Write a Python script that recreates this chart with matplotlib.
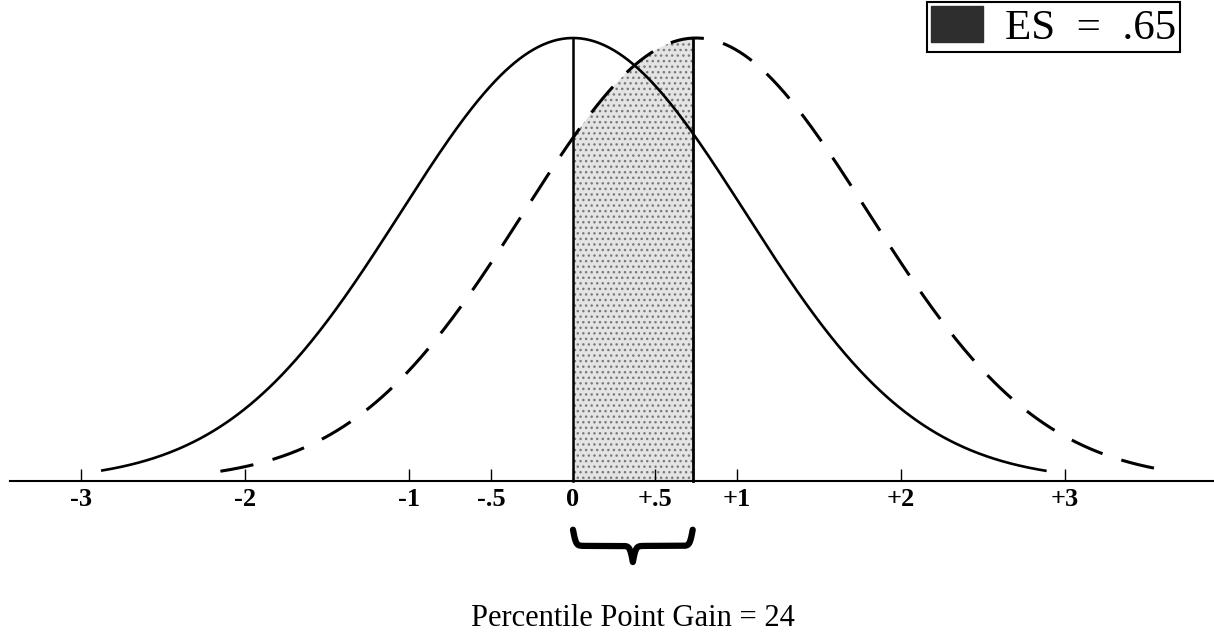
import numpy as np
import matplotlib
matplotlib.use('Agg')
import matplotlib.pyplot as plt
from matplotlib.patches import Patch

# effect size picture: control vs treatment distributions (z units)
effect_size = 0.65
treat_shift = 0.75          # where the dashed curve sits as drawn
shade_right = 0.73          # right edge of shaded band as drawn
spread = 1.05               # hand drawn bells are a little wide
solid_range = (-2.87, 2.88)
dashed_range = (-2.15, 3.58)
tick_vals = [-3, -2, -1, -0.5, 0, 0.5, 1, 2, 3]
tick_labels = ['-3', '-2', '-1', '-.5', '0', '+.5', '+1', '+2', '+3']
gain_label = 'Percentile Point Gain = 24'
es_label = 'ES = .65'


def bell(x, mu=0.0):
    return np.exp(-((x - mu) / spread) ** 2 / 2)


fig = plt.figure(figsize=(12.14, 6.34), dpi=100)
ax = fig.add_axes([0, 0, 1, 1])
ax.set_xlim(-573 / 164, (1214 - 573) / 164)
ax.set_ylim(-153 / 443, (634 - 153) / 443)

# curves
xs = np.linspace(solid_range[0], solid_range[1], 600)
ax.plot(xs, bell(xs), color='black', lw=1.9)
xd = np.linspace(dashed_range[0], dashed_range[1], 600)
ax.plot(xd, bell(xd, treat_shift), color='black', lw=2.2, dashes=(11, 6.5))

# shaded band between the means
xf = np.linspace(0, shade_right, 200)
ax.fill_between(xf, 0, bell(xf, treat_shift), facecolor='#e4e4e4',
                hatch='...', edgecolor='#7a7a7a', linewidth=0)
ax.plot([0, 0], [0, 1.0], color='black', lw=1.8)
ax.plot([shade_right, shade_right], [0, bell(shade_right, treat_shift)],
        color='black', lw=2.0)

# baseline with ticks
ax.spines[['top', 'right', 'left']].set_visible(False)
ax.spines['bottom'].set_position(('data', 0))
ax.spines['bottom'].set_bounds(-3.43, 3.91)
ax.spines['bottom'].set_linewidth(1.5)
ax.set_yticks([])
ax.set_xticks(tick_vals)
ax.set_xticklabels(tick_labels, family='Liberation Serif', weight='bold',
                   fontsize=19)
ax.tick_params(axis='x', direction='in', length=9, width=1, pad=5)

# curly brace under the band
bx = np.linspace(0, shade_right, 301)
half = bx[:151]
beta = 110
hy = 1 / (1 + np.exp(-beta * (half - half[0]))) + \
    1 / (1 + np.exp(-beta * (half - half[-1])))
by = np.concatenate([hy, hy[-2::-1]])
ax.plot(bx, -0.11 - (by - 0.5) * 0.073, color='black', lw=4.5,
        solid_capstyle='round')

ax.text(shade_right / 2, -0.31, gain_label, family='Liberation Serif',
        fontsize=22, ha='center', va='center')

# legend box
leg = ax.legend(handles=[Patch(facecolor='#2e2e2e', edgecolor='#2e2e2e')],
                labels=[es_label.replace(' ', '  ')], loc='upper right',
                bbox_to_anchor=(0.972, 0.997), borderaxespad=0,
                prop={'family': 'Liberation Serif', 'size': 31},
                handlelength=1.2, handleheight=0.9, handletextpad=0.5,
                borderpad=0.1, fancybox=False, framealpha=1)
leg.get_frame().set_edgecolor('black')
leg.get_frame().set_linewidth(1.5)

fig.savefig('out.png', dpi=100)
